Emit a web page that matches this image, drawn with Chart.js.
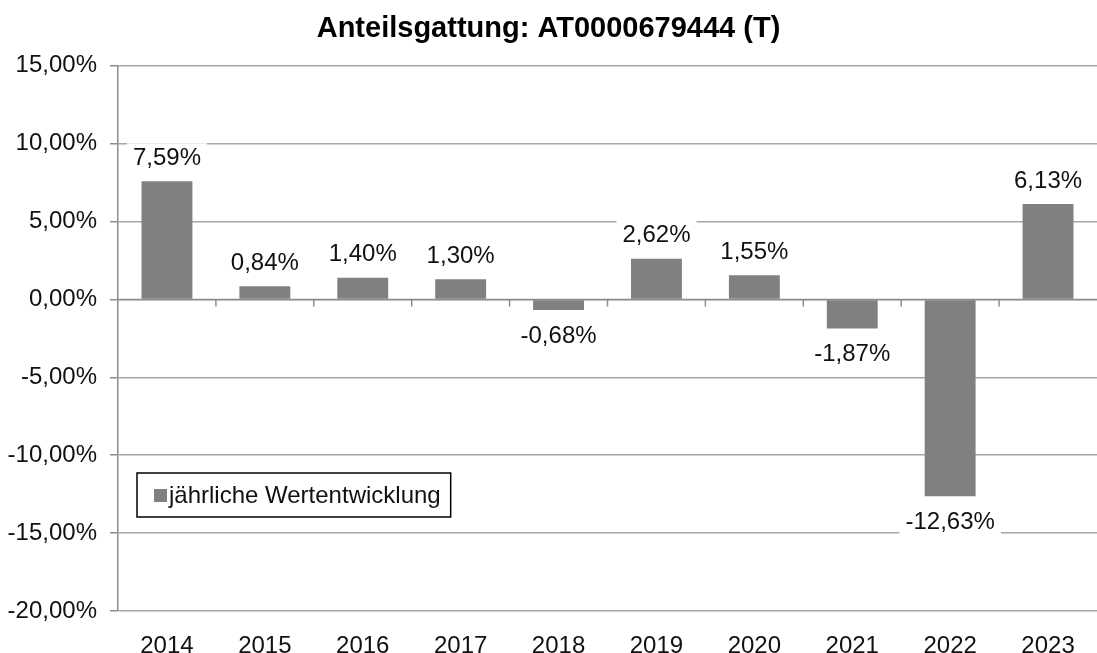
<!DOCTYPE html>
<html>
<head>
<meta charset="utf-8">
<script src="https://cdn.jsdelivr.net/npm/chart.js@4.4.0/dist/chart.umd.min.js"></script>
<style>
  html, body { margin: 0; padding: 0; background: #fff; }
  #wrap { width: 1097px; height: 653px; }
</style>
</head>
<body>
<div id="wrap"><canvas id="chart" width="1097" height="653"></canvas></div>
<script>
// Chart data
const years = ["2014", "2015", "2016", "2017", "2018", "2019", "2020", "2021", "2022", "2023"];
const performance = [7.59, 0.84, 1.40, 1.30, -0.68, 2.62, 1.55, -1.87, -12.63, 6.13];
const seriesName = "jährliche Wertentwicklung";
const chartTitle = "Anteilsgattung: AT0000679444 (T)";
const yMin = -20, yMax = 15, yStep = 5;

const FONT = "'Liberation Sans', Arial, sans-serif";
const barColor = "#808080";

function pct(v) {
    return v.toFixed(2).replace(".", ",") + "%";
}

// Value labels with white background above / below the bars
const valueLabels = {
    id: "valueLabels",
    afterDatasetsDraw(chart) {
        const ctx = chart.ctx;
        const meta = chart.getDatasetMeta(0);
        ctx.save();
        ctx.font = "24px " + FONT;
        ctx.textAlign = "center";
        ctx.textBaseline = "middle";
        meta.data.forEach(function (bar, i) {
            const v = chart.data.datasets[0].data[i];
            const y = v >= 0 ? bar.y - 24 : bar.y + 25;
            const text = pct(v);
            const w = ctx.measureText(text).width + 12;
            ctx.fillStyle = "#fff";
            ctx.fillRect(bar.x - w / 2, y - 14, w, 28);
            ctx.fillStyle = "#111";
            ctx.fillText(text, bar.x, y + 1);
        });
        ctx.restore();
    }
};

// Tick marks on the zero line between categories, plus legend box inside the plot
const extras = {
    id: "extras",
    afterDraw(chart) {
        const ctx = chart.ctx;
        const x = chart.scales.x;
        const y = chart.scales.y;
        const area = chart.chartArea;
        const y0 = y.getPixelForValue(0);
        ctx.save();
        ctx.strokeStyle = "#8c8c8c";
        ctx.lineWidth = 1.5;
        ctx.beginPath();
        ctx.moveTo(area.left, y0);
        ctx.lineTo(area.right, y0);
        for (let i = 1; i < years.length; i++) {
            const bx = (x.getPixelForValue(i - 1) + x.getPixelForValue(i)) / 2;
            ctx.moveTo(bx, y0);
            ctx.lineTo(bx, y0 + 7);
        }
        ctx.stroke();

        // legend
        const lx = area.left + 19, ly = area.bottom - 138;
        ctx.font = "24px " + FONT;
        const label = chart.data.datasets[0].label;
        const tw = ctx.measureText(label).width;
        const bw = tw + 42, bh = 44;
        ctx.fillStyle = "#fff";
        ctx.fillRect(lx, ly, bw, bh);
        ctx.strokeStyle = "#000";
        ctx.lineWidth = 1.5;
        ctx.strokeRect(lx, ly, bw, bh);
        ctx.fillStyle = barColor;
        ctx.fillRect(lx + 17, ly + bh / 2 - 6, 13, 13);
        ctx.fillStyle = "#111";
        ctx.textBaseline = "middle";
        ctx.textAlign = "left";
        ctx.fillText(label, lx + 32, ly + bh / 2 + 1);
        ctx.restore();
    }
};

const ctx = document.getElementById("chart").getContext("2d");
const myChart = new Chart(ctx, {
    type: "bar",
    data: {
        labels: years,
        datasets: [{
            label: seriesName,
            data: performance,
            backgroundColor: barColor,
            borderWidth: 0,
            categoryPercentage: 1.0,
            barPercentage: 0.52
        }]
    },
    options: {
        responsive: false,
        maintainAspectRatio: false,
        animation: false,
        layout: { padding: { left: 0, right: 0, top: 0, bottom: 0 } },
        plugins: {
            legend: { display: false },
            tooltip: { enabled: false },
            title: {
                display: true,
                text: chartTitle,
                color: "#000",
                font: { family: FONT, size: 29, weight: "bold" },
                padding: { top: 12, bottom: 19 }
            }
        },
        scales: {
            x: {
                grid: { display: false },
                border: { display: false },
                ticks: {
                    color: "#111",
                    font: { family: FONT, size: 24 },
                    padding: 13,
                    maxRotation: 0
                },
                afterFit: function (s) { s.height = 42; }
            },
            y: {
                min: yMin,
                max: yMax,
                ticks: {
                    stepSize: yStep,
                    color: "#111",
                    font: { family: FONT, size: 24 },
                    padding: 13,
                    callback: function (v) { return pct(v); }
                },
                grid: {
                    color: "#a6a6a6",
                    lineWidth: 1.5,
                    tickLength: 8,
                    tickColor: "#8c8c8c"
                },
                border: { display: true, color: "#8c8c8c", width: 1.5 },
                afterFit: function (s) { s.width = 118; }
            }
        }
    },
    plugins: [valueLabels, extras]
});
</script>
</body>
</html>
